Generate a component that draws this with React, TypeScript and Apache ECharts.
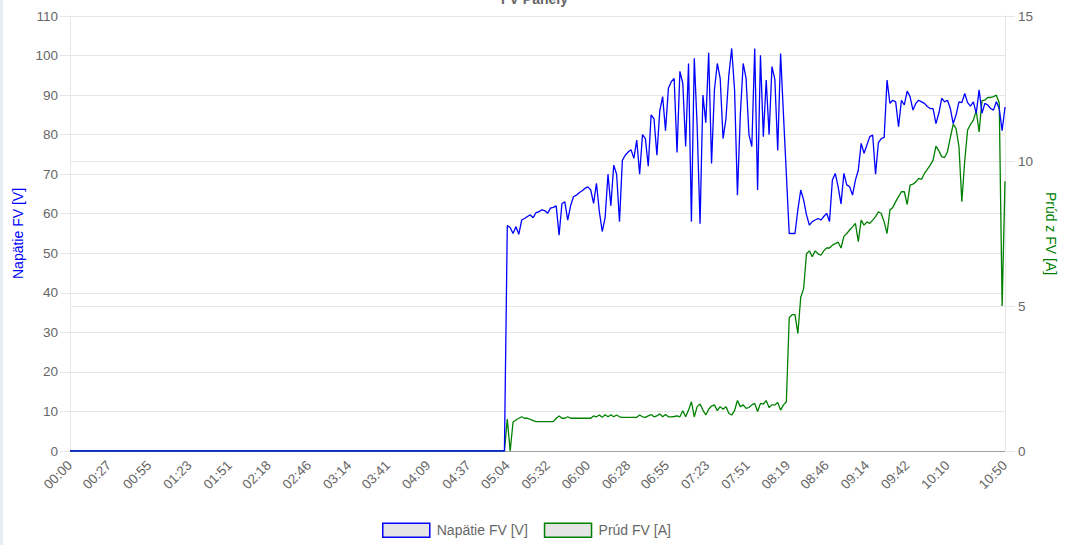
import { useEffect, useRef } from 'react';
import * as echarts from 'echarts';

// tick labels shown under the x axis (Chart.js auto-skip picked these)
const xTickLabels = [
    '00:00', '00:27', '00:55', '01:23', '01:51', '02:18', '02:46', '03:14',
    '03:41', '04:09', '04:37', '05:04', '05:32', '06:00', '06:28', '06:55',
    '07:23', '07:51', '08:19', '08:46', '09:14', '09:42', '10:10', '10:50',
];

// night: panel is off
const idleTimes = ['00:00', '05:02'];
const idleVoltage = [0, 0];
const idleCurrent = [0, 0];

// day: samples every 2 minutes from 05:04 to 10:50
const activeStart = '05:04';
const activeStepMin = 2;

const activeVoltage = [
    57, 56.5, 55, 56.7, 54.8, 58.4, 58.8, 59.3, 59.7, 59,
    60.3, 60.5, 61, 60.8, 60.1, 61.4, 61.6, 62, 54.6, 62.6,
    63, 58.4, 62, 64.3, 64.7, 65.3, 65.8, 66.4, 66.8, 66,
    62.6, 67.7, 60.5, 55.5, 59, 70, 62, 72.3, 70, 58,
    73.5, 74.8, 75.6, 76.2, 74, 78.6, 70, 80, 79, 72,
    85, 84, 74.8, 86, 89.6, 81, 91.7, 93.4, 94.2, 75.5,
    96, 93, 77, 98, 58, 99.3, 82, 57.5, 90, 83,
    100.7, 72.7, 91.3, 98, 94.2, 79, 84, 95, 101.8, 91.3,
    64.7, 85, 98, 94.2, 80, 77, 101.8, 66, 100.1, 79.5,
    93.8, 80, 97.2, 94, 76, 100.5, 85, 70, 55, 55,
    55, 61, 66, 63.5, 59.7, 57.1, 58, 58.4, 58.8, 58.4,
    59.3, 60.1, 58, 68.5, 70.2, 66.8, 62.5, 70.2, 67.3, 66.8,
    64.7, 68.5, 71, 77.8, 75.3, 77.4, 79.5, 79.9, 70, 78,
    79, 79.3, 93.8, 87.9, 88.7, 88.3, 82, 88.7, 87.5, 91,
    89.6, 86.2, 87.9, 88.7, 88.3, 87.9, 87.1, 86.6, 86.6, 82.8,
    85.4, 89.2, 88.3, 88.7, 86.6, 82.8, 85, 88.3, 88.1, 90.4,
    88.1, 87.2, 88.3, 85.4, 91.3, 85.4, 87.9, 87.5, 86.6, 86.2,
    88.3, 86.6, 81, 87,
];

const activeCurrent = [
    1.1, 0, 1.0, 1.07, 1.13, 1.18, 1.13, 1.13, 1.09, 1.05,
    1.01, 1.01, 1.01, 1.01, 1.01, 1.01, 1.01, 1.13, 1.21, 1.13,
    1.13, 1.18, 1.13, 1.13, 1.13, 1.13, 1.13, 1.13, 1.13, 1.13,
    1.21, 1.18, 1.24, 1.16, 1.25, 1.18, 1.25, 1.18, 1.24, 1.18,
    1.16, 1.16, 1.16, 1.16, 1.16, 1.16, 1.24, 1.18, 1.16, 1.21,
    1.26, 1.18, 1.21, 1.28, 1.18, 1.26, 1.18, 1.18, 1.19, 1.21,
    1.18, 1.39, 1.18, 1.41, 1.7, 1.18, 1.53, 1.62, 1.41, 1.24,
    1.44, 1.55, 1.59, 1.39, 1.53, 1.44, 1.53, 1.3, 1.24, 1.39,
    1.74, 1.53, 1.59, 1.47, 1.5, 1.59, 1.64, 1.36, 1.64, 1.62,
    1.74, 1.5, 1.59, 1.59, 1.67, 1.41, 1.59, 1.7, 4.6, 4.7,
    4.7, 4.05, 5.3, 5.6, 6.8, 6.9, 6.7, 6.9, 6.8, 6.75,
    6.9, 7.0, 7.0, 7.1, 7.15, 7.2, 7.0, 7.4, 7.5, 7.62,
    7.73, 7.85, 7.22, 7.96, 7.79, 7.9, 7.85, 7.96, 8.08, 8.25,
    8.19, 7.9, 7.5, 8.31, 8.4, 8.6, 8.77, 8.94, 8.94, 8.5,
    9.17, 9.2, 9.28, 9.4, 9.37, 9.57, 9.71, 9.86, 10.03, 10.51,
    10.35, 10.15, 10.12, 10.32, 10.81, 11.27, 11.12, 10.49, 8.6, 10.0,
    11.07, 11.26, 11.41, 11.73, 11.0, 12.08, 12.1, 12.19, 12.19, 12.22,
    12.27, 12.0, 5.0, 9.3,
];

const toMinutes = (t: string) => {
    const [h, m] = t.split(':').map(Number);
    return h * 60 + m;
};

const toLabel = (v: number) => {
    const h = Math.floor(v / 60);
    const m = Math.round(v % 60);
    return String(h).padStart(2, '0') + ':' + String(m).padStart(2, '0');
};

const App = () => {
    const chartRef = useRef<HTMLDivElement>(null);

    useEffect(() => {
        if (!chartRef.current) return;
        const myChart = echarts.init(chartRef.current, null, { renderer: 'svg' });

        const startMin = toMinutes(activeStart);
        const xs = [
            ...idleTimes.map(toMinutes),
            ...activeVoltage.map((_, i) => startMin + i * activeStepMin),
        ];
        const voltage = [...idleVoltage, ...activeVoltage];
        const current = [...idleCurrent, ...activeCurrent];

        const grey = '#666';
        const gridColor = '#e6e6e6';
        const font = 'Liberation Sans, Arial, Helvetica, sans-serif';

        const option = {
            animation: false,
            textStyle: { fontFamily: font },
            title: {
                text: 'FV Panely',
                left: 'center',
                top: -13,
                textStyle: { color: grey, fontSize: 14, fontWeight: 'bold', fontFamily: font },
            },
            graphic: [
                { type: 'rect', left: 0, top: 0, shape: { width: 3, height: 545 }, style: { fill: '#e4edf6' } },
            ],
            legend: {
                bottom: 2,
                left: 377,
                icon: 'rect',
                itemWidth: 47,
                itemHeight: 14,
                itemGap: 16,
                textStyle: { color: grey, fontSize: 14, fontFamily: font, padding: [0, 0, 0, 2] },
                data: [
                    { name: 'Napätie FV [V]', itemStyle: { color: '#e5e5e5', borderColor: '#0000ff', borderWidth: 1.5 } },
                    { name: 'Prúd FV [A]', itemStyle: { color: '#e5e5e5', borderColor: '#008000', borderWidth: 1.5 } },
                ],
            },
            grid: { left: 70, right: 64, top: 16, bottom: 94 },
            xAxis: {
                type: 'value',
                min: 0,
                max: toMinutes(xTickLabels[xTickLabels.length - 1]),
                axisLine: { lineStyle: { color: '#a0a0a0', width: 1 } },
                axisTick: { show: false },
                splitLine: { show: false },
                axisLabel: {
                    customValues: xTickLabels.map(toMinutes),
                    formatter: (v: number) => toLabel(v),
                    rotate: 45,
                    color: grey,
                    fontSize: 13.5,
                    margin: 12,
                },
            },
            yAxis: [
                {
                    type: 'value',
                    position: 'left',
                    min: 0,
                    max: 110,
                    interval: 10,
                    name: 'Napätie FV [V]',
                    nameLocation: 'middle',
                    nameGap: 45,
                    nameTextStyle: { color: '#0000ff', fontSize: 14, fontFamily: font },
                    axisLine: { show: true, lineStyle: { color: gridColor } },
                    axisTick: { show: true, length: 10, lineStyle: { color: gridColor } },
                    axisLabel: { color: grey, fontSize: 13.5, margin: 12 },
                    splitLine: { lineStyle: { color: gridColor } },
                },
                {
                    type: 'value',
                    position: 'right',
                    min: 0,
                    max: 15,
                    interval: 5,
                    name: 'Prúd z FV [A]',
                    nameLocation: 'middle',
                    nameRotate: -90,
                    nameGap: 36,
                    nameTextStyle: { color: '#008000', fontSize: 14, fontFamily: font },
                    axisLine: { show: true, lineStyle: { color: gridColor } },
                    axisTick: { show: true, length: 10, lineStyle: { color: gridColor } },
                    axisLabel: { color: grey, fontSize: 13.5, margin: 13 },
                    splitLine: { lineStyle: { color: gridColor } },
                },
            ],
            series: [
                {
                    name: 'Napätie FV [V]',
                    type: 'line',
                    yAxisIndex: 0,
                    z: 3,
                    showSymbol: false,
                    symbol: 'none',
                    data: xs.map((x, i) => [x, voltage[i]]),
                    lineStyle: { color: '#0000ff', width: 1.3 },
                    itemStyle: { color: '#e5e5e5', borderColor: '#0000ff' },
                },
                {
                    name: 'Prúd FV [A]',
                    type: 'line',
                    yAxisIndex: 1,
                    z: 2,
                    showSymbol: false,
                    symbol: 'none',
                    data: xs.map((x, i) => [x, current[i]]),
                    lineStyle: { color: '#008000', width: 1.3 },
                    itemStyle: { color: '#e5e5e5', borderColor: '#008000' },
                },
            ],
        };

        myChart.setOption(option);

        return () => {
            myChart.dispose();
        };
    }, []);

    return (
        <div
            ref={chartRef}
            style={{ position: 'absolute', left: 0, top: 0, width: '1069px', height: '545px' }}
        />
    );
};

export default App;
